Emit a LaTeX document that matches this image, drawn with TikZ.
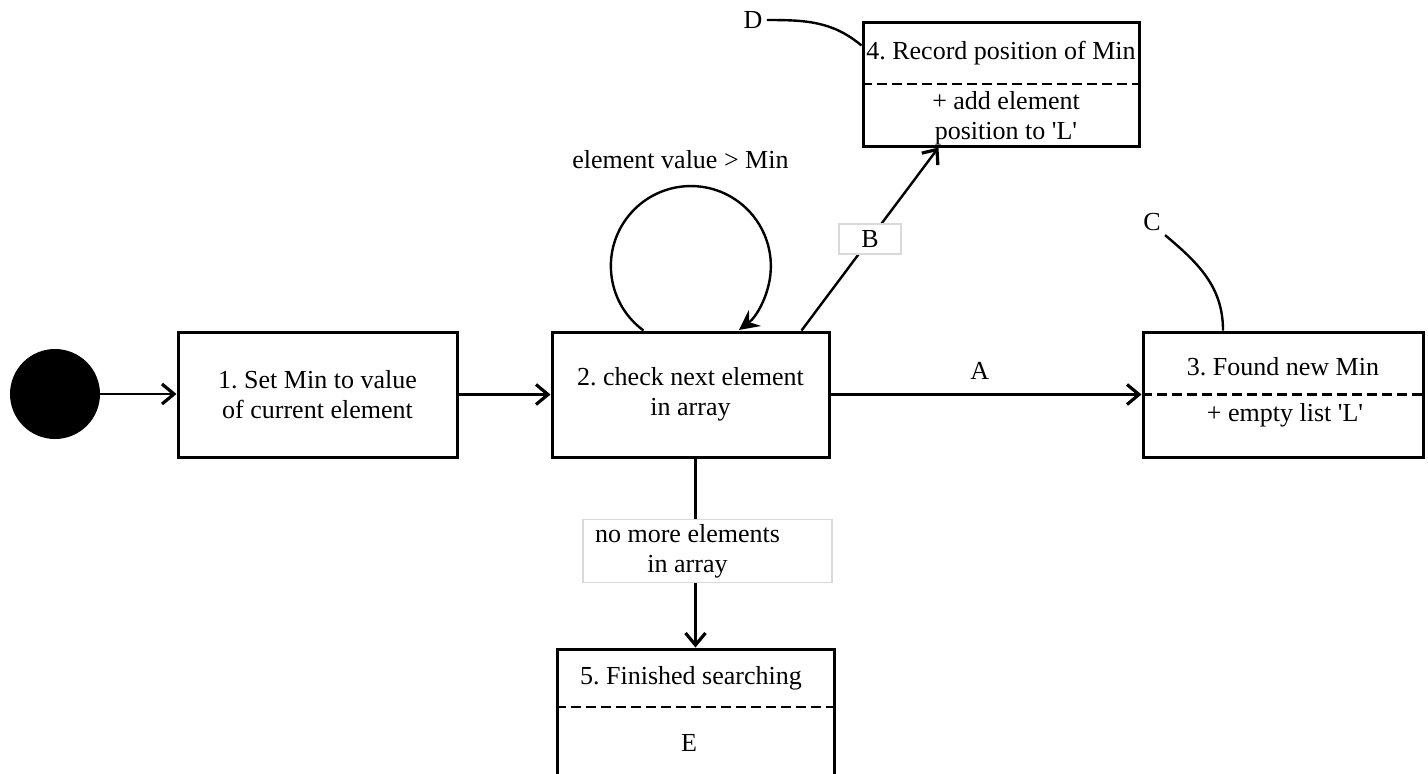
\documentclass[tikz,border=0pt]{standalone}
\usepackage{fontspec}
\setmainfont{Liberation Serif}
\newfontfamily\plainq{Liberation Serif}[Ligatures=ResetAll]
\usetikzlibrary{arrows.meta,calc}
\newcommand{\sq}{{\plainq\char"27\relax}}
\begin{document}
\frenchspacing
\begin{tikzpicture}[x=0.5pt,y=0.5pt,
  font=\fontsize{13}{15}\selectfont\frenchspacing,
  box/.style={draw,line width=1.5pt,minimum height=62.5pt,inner sep=0pt,align=center},
  txt/.style={inner sep=0pt,align=center},
  startdot/.style={circle,fill=black,minimum size=45pt,inner sep=0pt},
  conn/.style={line width=1.2pt},
  arr/.style={line width=1.2pt,-{Straight Barb[length=6pt,width=10pt,line width=1.6pt]}},
  looparr/.style={line width=1.2pt,-{Stealth[length=10pt,width=10pt,inset=3.5pt]}},
  splitline/.style={line width=1.2pt,dash pattern=on 5pt off 2.5pt},
  lblbox/.style={fill=white,draw=black!15,line width=0.6pt,inner sep=0pt},
  tag/.style={inner sep=2pt}
]
\useasboundingbox (0,0) rectangle (1428,-773);
\clip (0,0) rectangle (1428,-773);

% nodes
\node[startdot] (s) at (55,-394) {};
\node[box,minimum width=139.5pt] (b1) at (317.5,-394.5) {1. Set Min to value\\of current element};
\node[box,minimum width=138.5pt] (b2) at (690.5,-394.5) {2. check next element\\in array};
\node[box,minimum width=140pt] (b3) at (1283,-394.5) {};
\node[txt] (b3t) at (1283,-367) {3. Found new Min};
\node[txt] (b3b) at (1285,-415) {+ empty list \sq L\sq};
\node[box,minimum width=138pt,minimum height=62pt] (b4) at (1001,-84) {};
\node[txt] (b4t) at (1001,-53) {4. Record position of Min};
\node[txt] (b4b) at (1006,-118) {+ add element\\position to \sq L\sq};
\node[box,minimum width=138.5pt,minimum height=63.5pt] (b5) at (695.5,-712.5) {};
\node[txt] (b5t) at (691,-678) {5. Finished searching};
\node[txt] (b5b) at (689,-743) {E};
\node[tag] (C) at (1152,-222) {C};
\node[tag] (D) at (753,-20) {D};

% compartment separators
\draw[splitline] (b3.west) -- (b3.east);
\draw[splitline] (b4.west) -- (b4.east);
\draw[splitline] ([yshift=2.75pt]b5.west) -- ([yshift=2.75pt]b5.east);

% connectors
\draw[arr] (s.east) -- (s.east -| b1.west);
\draw[arr] (b1) -- (b2);
\draw[arr] (b2.east) -- (b2.east -| b3.west) node[pos=0.48,yshift=12pt] {A};
\draw[arr] ([xshift=-14.5pt]b2.north east) -- ([xshift=38.5pt]b4.south west)
  node[midway,lblbox,minimum width=31pt,minimum height=15pt] {B};
\draw[looparr] ([xshift=46.5pt]b2.north west) arc[start angle=233.7,end angle=-53.1,radius=40pt]
  node[pos=0.5,yshift=13pt,xshift=-5pt] {element value > Min};
\draw[arr] (b5.north |- b2.south) -- (b5.north)
  node[pos=0.49,lblbox,xshift=6pt,minimum width=124.5pt,minimum height=31.5pt]
  {\begin{tabular}{@{}c@{}}no more elements\\in array\end{tabular}\kern20pt};
\draw[conn] (C.south east) to[out=-40,in=90] ([xshift=-30pt]b3.north);
\draw[conn] (D.east) to[out=0,in=140] ([yshift=-12.5pt]b4.north west);
\end{tikzpicture}
\end{document}
